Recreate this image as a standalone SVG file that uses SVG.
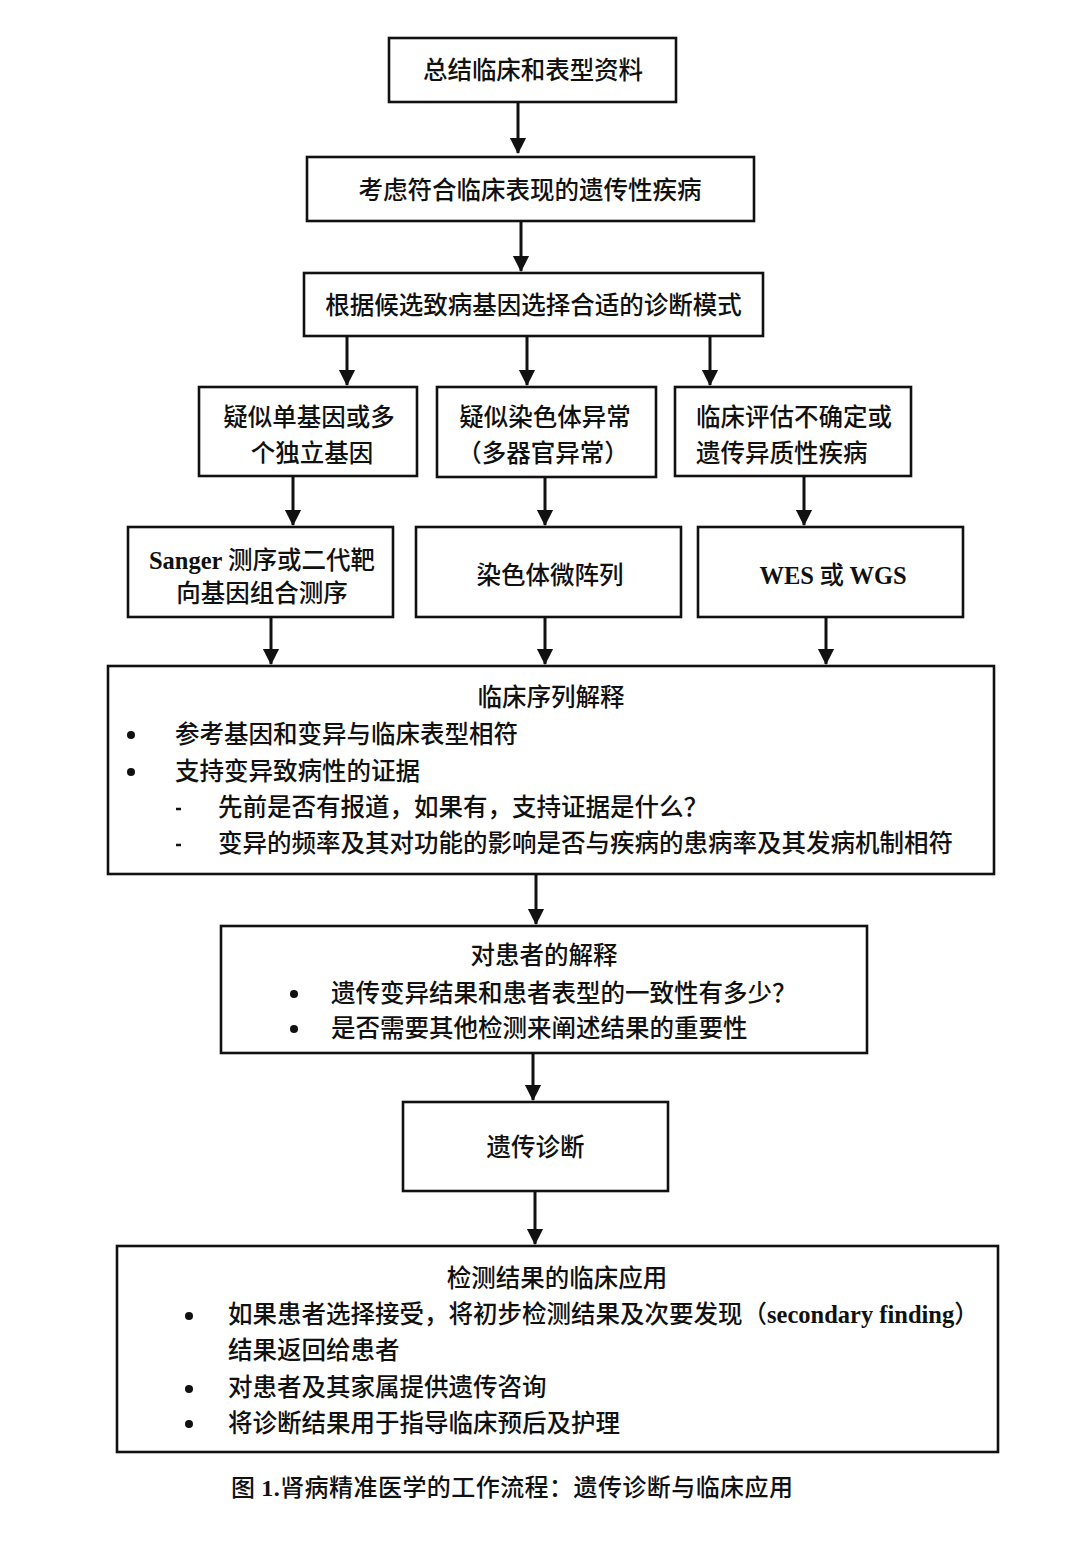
<svg xmlns="http://www.w3.org/2000/svg" width="1080" height="1551" viewBox="0 0 1080 1551">
<style>
.box{fill:#fff;stroke:#111;stroke-width:2.6}
.t{font-family:"Noto Sans CJK SC","Liberation Sans",sans-serif;font-size:24.5px;font-weight:500;fill:#111}
.c{text-anchor:middle}
.lat{font-family:"Liberation Serif",serif;font-weight:bold}
.con{stroke:#111;stroke-width:3;fill:none}
.dot{fill:#111}
.dash{stroke:#111;stroke-width:2.5}
</style>
<defs>
<marker id="ah" markerWidth="6" markerHeight="6" refX="5" refY="3" orient="auto" markerUnits="strokeWidth">
<path d="M0,0.3 L5.3,3 L0,5.7 Z" fill="#111"/>
</marker>
</defs>
<rect width="1080" height="1551" fill="#fff"/>

<g id="connectors">
<line class="con" x1="518" y1="102" x2="518" y2="153" marker-end="url(#ah)"/>
<line class="con" x1="521" y1="221" x2="521" y2="271" marker-end="url(#ah)"/>
<line class="con" x1="347" y1="336" x2="347" y2="385" marker-end="url(#ah)"/>
<line class="con" x1="527" y1="336" x2="527" y2="385" marker-end="url(#ah)"/>
<line class="con" x1="710" y1="336" x2="710" y2="385" marker-end="url(#ah)"/>
<line class="con" x1="293" y1="476" x2="293" y2="525" marker-end="url(#ah)"/>
<line class="con" x1="545" y1="477" x2="545" y2="525" marker-end="url(#ah)"/>
<line class="con" x1="804" y1="476" x2="804" y2="525" marker-end="url(#ah)"/>
<line class="con" x1="271" y1="617" x2="271" y2="664" marker-end="url(#ah)"/>
<line class="con" x1="545" y1="617" x2="545" y2="664" marker-end="url(#ah)"/>
<line class="con" x1="826" y1="617" x2="826" y2="664" marker-end="url(#ah)"/>
<line class="con" x1="536" y1="874" x2="536" y2="924" marker-end="url(#ah)"/>
<line class="con" x1="533" y1="1053" x2="533" y2="1100" marker-end="url(#ah)"/>
<line class="con" x1="535" y1="1191" x2="535" y2="1244" marker-end="url(#ah)"/>
</g>

<g id="n1">
<rect class="box" x="389" y="38" width="287" height="64"/>
<text class="t c" x="533" y="79" textLength="220" lengthAdjust="spacing">总结临床和表型资料</text>
</g>
<g id="n2">
<rect class="box" x="307" y="157" width="447" height="64"/>
<text class="t c" x="530" y="199">考虑符合临床表现的遗传性疾病</text>
</g>
<g id="n3">
<rect class="box" x="304" y="273" width="459" height="63"/>
<text class="t c" x="533.5" y="314">根据候选致病基因选择合适的诊断模式</text>
</g>
<g id="n4a">
<rect class="box" x="199" y="387" width="218" height="89"/>
<text class="t c" x="309" y="426">疑似单基因或多</text>
<text class="t c" x="312" y="462">个独立基因</text>
</g>
<g id="n4b">
<rect class="box" x="437" y="387" width="219" height="90"/>
<text class="t c" x="545" y="426">疑似染色体异常</text>
<text class="t c" x="543" y="462">（多器官异常）</text>
</g>
<g id="n4c">
<rect class="box" x="675" y="387" width="236" height="89"/>
<text class="t" x="696" y="426">临床评估不确定或</text>
<text class="t" x="696" y="462">遗传异质性疾病</text>
</g>
<g id="n5a">
<rect class="box" x="128" y="527" width="265" height="90"/>
<text class="t c" x="262" y="569"><tspan class="lat">Sanger</tspan> 测序或二代靶</text>
<text class="t c" x="262" y="602">向基因组合测序</text>
</g>
<g id="n5b">
<rect class="box" x="416" y="527" width="265" height="90"/>
<text class="t c" x="550" y="584">染色体微阵列</text>
</g>
<g id="n5c">
<rect class="box" x="698" y="527" width="265" height="90"/>
<text class="t c" x="833" y="584"><tspan class="lat">WES</tspan> 或 <tspan class="lat">WGS</tspan></text>
</g>
<g id="n6">
<rect class="box" x="108" y="666" width="886" height="208"/>
<text class="t c" x="551" y="706">临床序列解释</text>
<circle class="dot" cx="131" cy="735" r="4"/>
<text class="t" x="175" y="743">参考基因和变异与临床表型相符</text>
<circle class="dot" cx="131" cy="772" r="4"/>
<text class="t" x="175" y="780">支持变异致病性的证据</text>
<line class="dash" x1="176" y1="809" x2="181" y2="809"/>
<text class="t" x="218" y="816">先前是否有报道，如果有，支持证据是什么？</text>
<line class="dash" x1="176" y1="845" x2="181" y2="845"/>
<text class="t" x="218" y="852">变异的频率及其对功能的影响是否与疾病的患病率及其发病机制相符</text>
</g>
<g id="n7">
<rect class="box" x="221" y="926" width="646" height="127"/>
<text class="t c" x="544" y="964">对患者的解释</text>
<circle class="dot" cx="294" cy="994" r="4"/>
<text class="t" x="331" y="1002">遗传变异结果和患者表型的一致性有多少？</text>
<circle class="dot" cx="294" cy="1029" r="4"/>
<text class="t" x="331" y="1037">是否需要其他检测来阐述结果的重要性</text>
</g>
<g id="n8">
<rect class="box" x="403" y="1102" width="265" height="89"/>
<text class="t c" x="535.5" y="1156">遗传诊断</text>
</g>
<g id="n9">
<rect class="box" x="117" y="1246" width="881" height="206"/>
<text class="t c" x="557" y="1287">检测结果的临床应用</text>
<circle class="dot" cx="189" cy="1316" r="4"/>
<text class="t" x="228" y="1323">如果患者选择接受，将初步检测结果及次要发现（<tspan class="lat">secondary finding</tspan>）</text>
<text class="t" x="228" y="1359">结果返回给患者</text>
<circle class="dot" cx="189" cy="1389" r="4"/>
<text class="t" x="228" y="1396">对患者及其家属提供遗传咨询</text>
<circle class="dot" cx="189" cy="1424" r="4"/>
<text class="t" x="228" y="1432">将诊断结果用于指导临床预后及护理</text>
</g>
<g id="caption">
<text class="t" x="231" y="1496" style="font-size:24px" textLength="562" lengthAdjust="spacing">图 <tspan class="lat">1.</tspan>肾病精准医学的工作流程：遗传诊断与临床应用</text>
</g>
</svg>
